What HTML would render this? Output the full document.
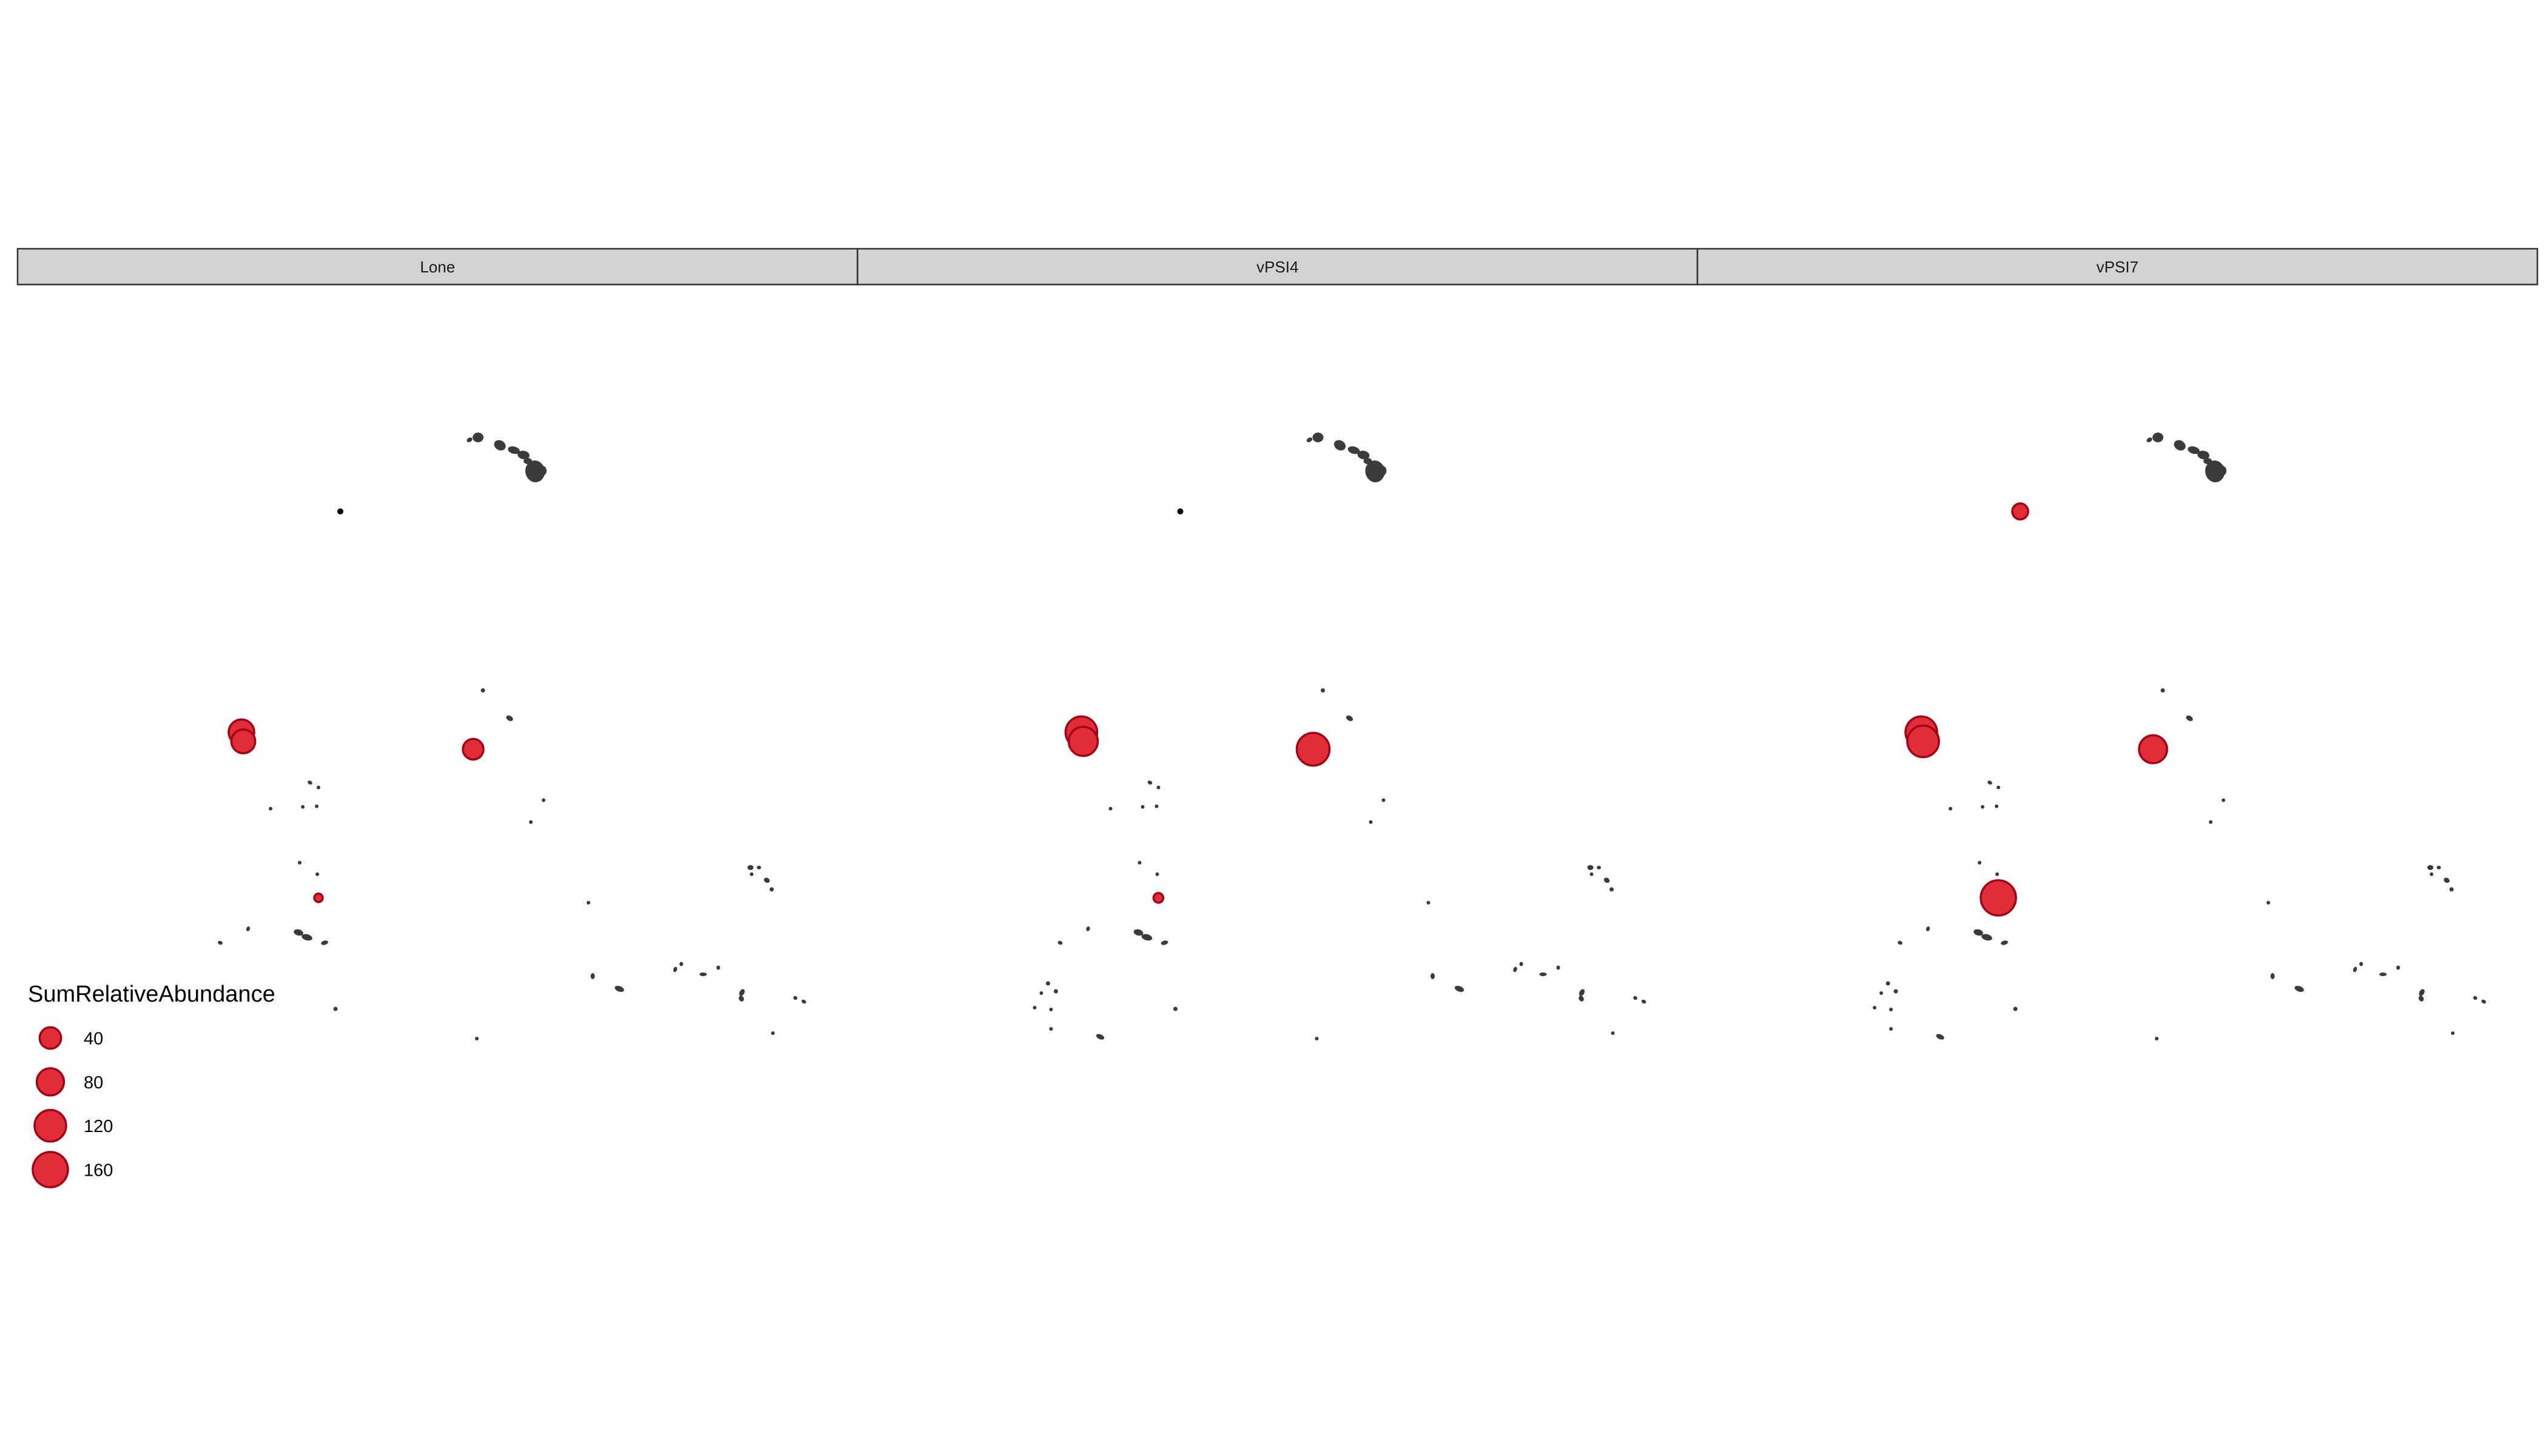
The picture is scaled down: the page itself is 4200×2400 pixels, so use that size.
<!DOCTYPE html>
<html><head><meta charset="utf-8"><style>
html,body{margin:0;padding:0;background:#fff;}
svg{display:block;font-family:"Liberation Sans",sans-serif;}
</style></head><body>
<svg id="chart" width="4200" height="2400" viewBox="0 0 4200 2400" xmlns="http://www.w3.org/2000/svg">
<rect width="4200" height="2400" fill="#fff"/>
<g id="strips"></g><g id="panels"></g><g id="legend"></g>
</svg>
<script>
const facets = ["Lone", "vPSI4", "vPSI7"];
const siteNames = ["siteA", "siteB", "siteC", "siteD", "siteE"];
const siteX = [561, 398, 401, 780, 525];
const siteY = [843, 1207, 1222, 1235, 1480];
const loneValues = [0, 67, 55, 35, 0.1];
const vpsi4Values = [0, 121, 97, 133, 0.8];
const vpsi7Values = [14, 121, 121, 87, 160];
const legendValues = [40, 80, 120, 160];
const legendLabels = ["40", "80", "120", "160"];

const allValues = [loneValues, vpsi4Values, vpsi7Values];
const NS = "http://www.w3.org/2000/svg";
const panelW = 1384.5, panelX0 = 29;
function rScale(v){ return 1.785*Math.sqrt(v) + 6.4; }
function mk(tag, attrs, parent){ const e=document.createElementNS(NS,tag); for(const k in attrs) e.setAttribute(k,attrs[k]); parent.appendChild(e); return e; }

const islands = [
 [788,721,9,8,0],[774,725,5,3.5,-30],[824,734,10,8,30],[847,742,10,6,15],[863,750,10,7,10],[870,760,7,5,0],[882,777,16,18,-10],[892,776,9,9,0],
 [796,1138,3.5,3.5,0],[840,1184,6,4,30],[511,1290,4,3,30],[525,1298,3,3,0],[446,1333,3,3,0],[499,1330,3,3,0],[522,1329,3,3,0],
 [896,1319,3,3,0],[875,1355,3,3,0],[494,1422,3,3,0],[523,1441,3,3,0],[970,1488,3,3,0],
 [1237,1430,5,4,0],[1251,1430,3.5,3,0],[1239,1441,3,3,0],[1264,1451,5,4,30],[1272,1466,3.5,3.5,0],
 [409,1531,3,4,20],[363,1554,4,3,20],[492,1537,8,5,15],[506,1545,9,5,15],[535,1554,6,3.5,-15],
 [977,1609,3.5,5,0],[1021,1630,8,4.5,20],[1113,1598,3,4.5,20],[1123,1589,3,3.5,0],[1159,1606,6,3,0],[1184,1595,3,3.5,0],
 [1223,1636,4,6,30],[1222,1646,4,5,-30],[1311,1645,3.5,3,30],[1325,1651,4,3,30],[553,1663,3.5,3.5,0],[786,1712,3,3,0],[1274,1703,3,3,0],
 [343,1621,3.5,3.5,0],[332,1637,3,3,0],[356,1634,3.5,3.5,0],[321,1661,3,3,0],[348,1664,3,3,0],[348,1696,3,3,0],[429,1709,7,4,25]
];

const strips=document.getElementById('strips');
const panels=document.getElementById('panels');
facets.forEach((f,i)=>{
  const x0 = panelX0 + i*panelW;
  const sg = mk('g',{},strips);
  
  
  mk('rect',{x:x0,y:410,width:panelW,height:59,fill:'#d3d3d3',stroke:'#333',"stroke-width":2.5},sg);
  const t = mk('text',{x:x0+panelW/2,y:449,"font-size":26,"text-anchor":"middle",fill:'#1a1a1a'},sg);
  t.textContent=f;
  const pg = mk('g',{transform:'translate('+(i*panelW)+',0)'},panels);
  
  
  islands.forEach(s=>{
    const e = mk('ellipse',{cx:s[0],cy:s[1],rx:s[2],ry:s[3],transform:'rotate('+s[4]+' '+s[0]+' '+s[1]+')',fill:'#3b3b3b'},pg);
    
    
  });
  const vals = allValues[i];
  siteNames.forEach((s,j)=>{
    const v = vals[j];
    let c;
    if (v===0){
      c = mk('circle',{cx:siteX[j],cy:siteY[j],r:5,fill:'#000'},pg);
    } else {
      c = mk('circle',{cx:siteX[j],cy:siteY[j],r:rScale(v),fill:'#e02d38',stroke:'#a50014',"stroke-width":3.5},pg);
    }
    
    
  });
});

const lg=document.getElementById('legend');


mk('rect',{x:30,y:1590,width:440,height:380,fill:'#fff'},lg);
const lt = mk('text',{x:46,y:1651,"font-size":38,fill:'#000'},lg);
lt.textContent='SumRelativeAbundance';


legendValues.forEach((v,k)=>{
  const cy = 1711 + k*72.3;
  const c = mk('circle',{cx:83,cy:cy,r:rScale(v),fill:'#e02d38',stroke:'#a50014',"stroke-width":3.5},lg);
  
  
  const t = mk('text',{x:138,y:cy+10.5,"font-size":29,fill:'#000'},lg);
  t.textContent = legendLabels[k];
  
  
});
</script>
</body></html>
